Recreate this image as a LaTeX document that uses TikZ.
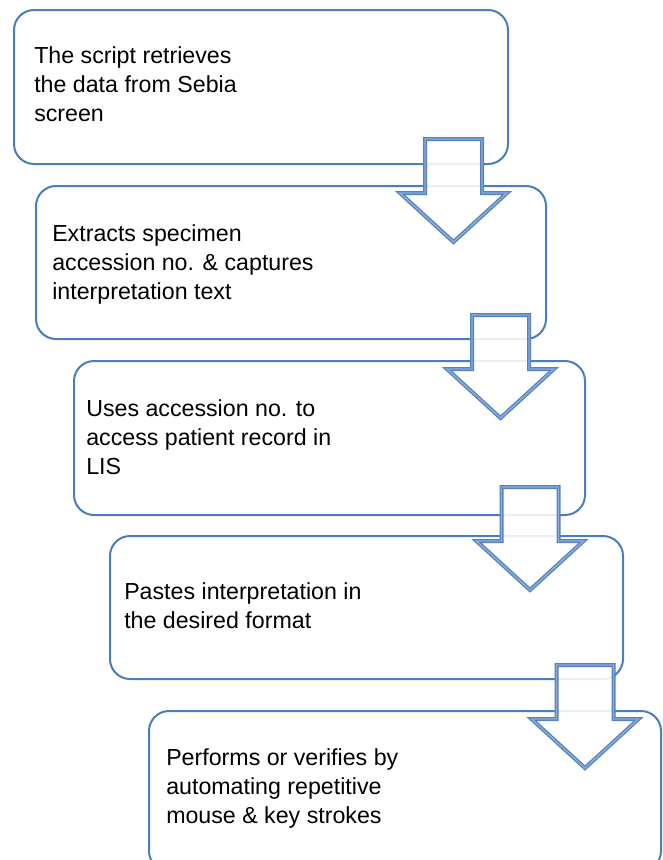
\documentclass[tikz,border=0pt]{standalone}
\usepackage{fontspec}
\setmainfont{Liberation Sans}
\definecolor{boxblue}{RGB}{74,126,187}
\definecolor{arrowblue}{RGB}{84,130,192}
\definecolor{arrowlight}{RGB}{140,172,214}
\begin{document}
\begin{tikzpicture}[x=0.75pt,y=-0.75pt,
  box/.style={draw=boxblue, line width=1.5pt, rounded corners=15pt, fill=white, inner sep=0pt, anchor=north west},
  txt/.style={anchor=north west, inner sep=0pt, align=left, text=black,
    font=\fontsize{17.4pt}{21.75pt}\selectfont},
  blockarrow/.style={draw=arrowblue, line width=0.95pt, double=arrowlight, double distance=1.1pt,
    fill=white, fill opacity=0.88, line join=miter},
  downarrow/.pic={\draw[blockarrow] (-28.5,0) -- (28.5,0) -- (28.5,54) -- (53.5,54) -- (0,103)
      -- (-53.5,54) -- (-28.5,54) -- cycle;}
]
\useasboundingbox (0,0) rectangle (662,860);
% boxes
\node[box, minimum width=370.5pt, minimum height=115.5pt] (b1) at (13,9) {};
\node[box, minimum width=382.5pt, minimum height=114.75pt] (b2) at (35,185) {};
\node[box, minimum width=383.25pt, minimum height=115.5pt] (b3) at (73,360) {};
\node[box, minimum width=384.75pt, minimum height=107.25pt] (b4) at (109,535) {};
\node[box, minimum width=384pt, minimum height=120pt] (b5) at (148,710) {};
% texts
\node[txt] (t1) at (34,46) {The script retrieves\\the data from Sebia\\screen};
\node[txt] (t2) at (52,224) {Extracts specimen\\accession no. \& captures\\interpretation text};
\node[txt] (t3) at (86,399) {Uses accession no. to\\access patient record in\\LIS};
\node[txt] (t4) at (124,582) {Pastes interpretation in\\the desired format};
\node[txt] (t5) at (166,748) {Performs or verifies by\\automating repetitive\\mouse \& key strokes};
% block arrows
\coordinate (a1) at (453.5,139);
\coordinate (a2) at (500.5,315);
\coordinate (a3) at (530,487);
\coordinate (a4) at (585,665);
\pic at (a1) {downarrow};
\pic at (a2) {downarrow};
\pic at (a3) {downarrow};
\pic at (a4) {downarrow};
\end{tikzpicture}
\end{document}
